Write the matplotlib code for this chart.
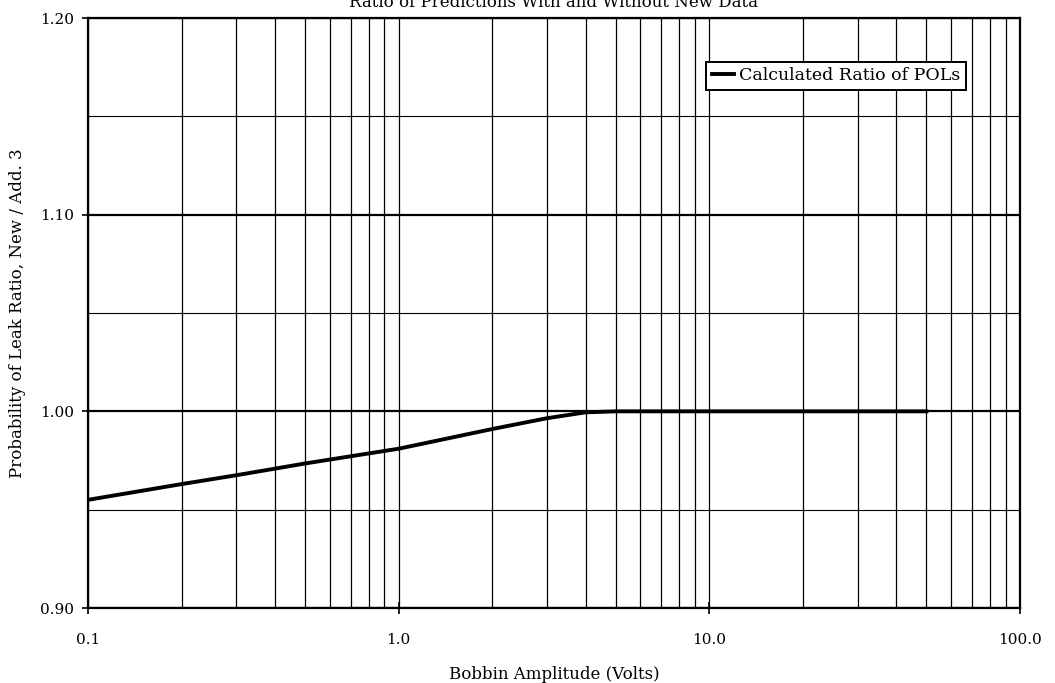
import numpy as np
import matplotlib.pyplot as plt
from matplotlib.ticker import FixedLocator, FuncFormatter, NullFormatter

plt.rcParams['font.family'] = ['DejaVu Serif']

# Calculated ratio of POLs vs bobbin amplitude
volts = [0.1, 0.2, 0.3, 0.5, 1.0, 2.0, 3.0, 4.0, 5.0, 10.0, 20.0, 50.0]
ratio = [0.955, 0.963, 0.9675, 0.9735, 0.981, 0.991, 0.9965, 0.9995, 1.0, 1.0, 1.0, 1.0]

x_major = [0.1, 1.0, 10.0, 100.0]
y_major = [0.90, 1.00, 1.10, 1.20]
y_minor = [0.95, 1.05, 1.15]

fig = plt.figure(figsize=(10.55, 6.83), dpi=100)
ax = fig.add_axes([0.0834, 0.1098, 0.8834, 0.8638])

ax.plot(volts, ratio, color='black', lw=2.8, label='Calculated Ratio of POLs', zorder=3)

ax.set_xscale('log')
ax.set_xlim(0.1, 100)
ax.set_ylim(0.90, 1.20)

ax.xaxis.set_major_locator(FixedLocator(x_major))
ax.xaxis.set_major_formatter(FuncFormatter(lambda v, p: f'{v:.1f}'))
ax.xaxis.set_minor_formatter(NullFormatter())
ax.yaxis.set_major_locator(FixedLocator(y_major))
ax.yaxis.set_minor_locator(FixedLocator(y_minor))
ax.yaxis.set_major_formatter(FuncFormatter(lambda v, p: f'{v:.2f}'))

# vertical grid at every decade step, heavier horizontal lines at major ticks
ax.grid(which='both', axis='x', color='black', lw=0.9)
ax.grid(which='major', axis='y', color='black', lw=1.6)
ax.grid(which='minor', axis='y', color='black', lw=0.8)

ax.tick_params(which='major', direction='inout', length=8, width=1.2, labelsize=11, pad=6)
ax.tick_params(which='minor', length=0)
ax.tick_params(axis='x', pad=14)
for s in ax.spines.values():
    s.set_linewidth(1.6)

ax.set_xlabel('Bobbin Amplitude (Volts)', fontsize=12, labelpad=14)
ax.set_ylabel('Probability of Leak Ratio, New / Add. 3', fontsize=12, labelpad=10)
fig.text(0.525, 0.996, 'Ratio of Predictions With and Without New Data',
         ha='center', va='center', fontsize=12)

leg = ax.legend(loc='upper right', bbox_to_anchor=(0.942, 0.925), fontsize=12.5,
                frameon=True, fancybox=False, handlelength=1.3, handletextpad=0.3,
                borderpad=0.3, borderaxespad=0)
leg.get_frame().set_edgecolor('black')
leg.get_frame().set_linewidth(1.4)
leg.get_frame().set_alpha(1)

fig.savefig('out.png', dpi=100)
